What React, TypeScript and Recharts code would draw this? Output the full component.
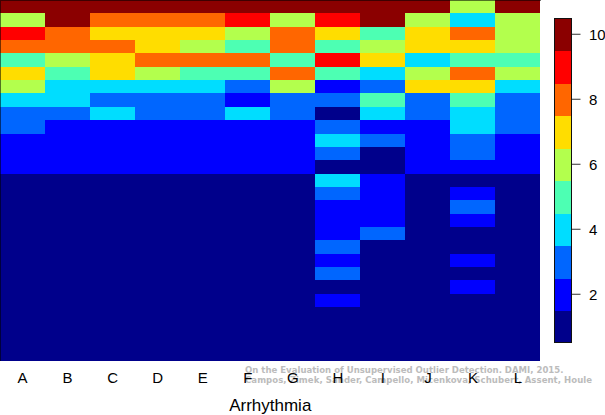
import React from "react";
import { BarChart, Bar, Cell, XAxis, YAxis } from "recharts";

const colA = [10,6,9,8,5,7,6,4,3,3,2,2,2,1,1,1,1,1,1,1,1,1,1,1,1,1,1];
const colB = [10,10,8,8,6,5,4,4,3,2,2,2,2,1,1,1,1,1,1,1,1,1,1,1,1,1,1];
const colC = [10,8,7,8,7,7,4,3,4,2,2,2,2,1,1,1,1,1,1,1,1,1,1,1,1,1,1];
const colD = [10,8,7,7,8,6,4,3,3,2,2,2,2,1,1,1,1,1,1,1,1,1,1,1,1,1,1];
const colE = [10,8,7,6,8,5,4,3,3,2,2,2,2,1,1,1,1,1,1,1,1,1,1,1,1,1,1];
const colF = [10,9,6,5,8,5,3,2,4,2,2,2,2,1,1,1,1,1,1,1,1,1,1,1,1,1,1];
const colG = [10,6,8,8,5,8,6,3,3,2,2,2,2,1,1,1,1,1,1,1,1,1,1,1,1,1,1];
const colH = [10,9,7,5,9,5,2,3,1,3,4,3,1,4,3,2,2,2,3,2,3,1,2,1,1,1,1];
const colI = [10,10,5,6,7,4,3,5,4,2,3,1,1,2,2,2,2,3,1,1,1,1,1,1,1,1,1];
const colJ = [10,6,7,7,4,6,7,3,3,2,2,2,2,1,1,1,1,1,1,1,1,1,1,1,1,1,1];
const colK = [6,4,8,7,5,8,7,5,4,4,3,3,2,1,2,3,2,1,1,2,1,2,1,1,1,1,1];
const colL = [10,6,6,6,5,6,4,3,3,3,2,2,2,1,1,1,1,1,1,1,1,1,1,1,1,1,1];

const categories = ["A","B","C","D","E","F","G","H","I","J","K","L"];
const columns = [colA,colB,colC,colD,colE,colF,colG,colH,colI,colJ,colK,colL];
const palette = ["#00008B","#0000FF","#0066FF","#00DDFF","#4DFFB3","#B3FF4D","#FFDD00","#FF6600","#FF0000","#8B0000"];
const levels = [1,2,3,4,5,6,7,8,9,10];
const barTicks = [2,4,6,8,10];
const rowIndex = colA.map((_, i) => i);
const title = "Arrhythmia";
const noteLines = [
  "On the Evaluation of Unsupervised Outlier Detection. DAMI, 2015.",
  "Campos, Zimek, Sander, Campello, Micenkova, Schubert, Assent, Houle",
];

const table = categories.map((name) => {
  const row: Record<string, string | number> = { name };
  rowIndex.forEach((r) => { row["r" + r] = 1; });
  return row;
});
const legendTable = levels.map((level) => ({ level, span: 1 }));

const font = "'Liberation Sans', Arial, sans-serif";

function ColorbarTick(p: any) {
  return (
    <g>
      <line x1={17.5} x2={26.5} y1={p.y} y2={p.y} stroke="#333" strokeWidth={1} />
      <text x={35} y={p.y} dy="0.36em" textAnchor="start" fontFamily={font} fontSize={15} fill="#000">{p.payload.value}</text>
    </g>
  );
}

export default function App() {
  return (
    <div style={{ position: "absolute", left: 0, top: 0, width: 605, height: 415, background: "#fff", overflow: "hidden" }}>
      {noteLines.map((t, i) => (
        <div key={i} style={{ position: "absolute", left: 245, top: 363.5 + i * 10.2, fontFamily: "'DejaVu Sans'", fontWeight: "bold", fontSize: 8.55, lineHeight: "12px", letterSpacing: i === 1 ? 0.05 : 0, color: "#bcbcbc", whiteSpace: "nowrap" }}>{t}</div>
      ))}
      <div style={{ position: "absolute", left: 0, top: 0 }}>
        <BarChart width={605} height={415} data={table} margin={{ top: 0, right: 64.5, bottom: 0, left: 0 }} barCategoryGap={0} barGap={0} style={{ background: "transparent" }}>
          <XAxis dataKey="name" height={54.5} axisLine={false} tickLine={false} interval={0} tickMargin={6}
            tick={{ fontFamily: font, fontSize: 15, fill: "#000" }}
            label={{ value: title, position: "insideBottom", offset: 4, style: { fontFamily: font, fontSize: 17, fill: "#000" } }} />
          <YAxis hide reversed type="number" domain={[0, rowIndex.length]} />
          {rowIndex.map((r) => (
            <Bar key={r} dataKey={"r" + r} stackId="s" isAnimationActive={false} shapeRendering="crispEdges">
              {columns.map((col, c) => (
                <Cell key={c} fill={palette[col[r] - 1]} />
              ))}
            </Bar>
          ))}
        </BarChart>
      </div>
      <div style={{ position: "absolute", left: 0, top: 0, width: 541, height: 361, borderLeft: "1px solid rgba(0,0,0,0.55)", borderTop: "1px solid rgba(0,0,0,0.55)", boxSizing: "border-box", pointerEvents: "none" }} />
      <div style={{ position: "absolute", left: 554, top: 18 }}>
        <BarChart width={51} height={325} layout="vertical" data={legendTable} margin={{ top: 0, right: 0, bottom: 0, left: 0 }} barCategoryGap={0}>
          <XAxis type="number" hide domain={[0, 1]} />
          <YAxis type="category" dataKey="level" orientation="right" reversed width={34} interval={0} ticks={barTicks}
            axisLine={false} tickLine={false} tick={<ColorbarTick />} />
          <Bar dataKey="span" isAnimationActive={false} shapeRendering="crispEdges">
            {legendTable.map((d) => (
              <Cell key={d.level} fill={palette[d.level - 1]} />
            ))}
          </Bar>
        </BarChart>
      </div>
      <div style={{ position: "absolute", left: 554, top: 18, width: 17.5, height: 325, border: "1px solid #111", boxSizing: "border-box", pointerEvents: "none" }} />
    </div>
  );
}
